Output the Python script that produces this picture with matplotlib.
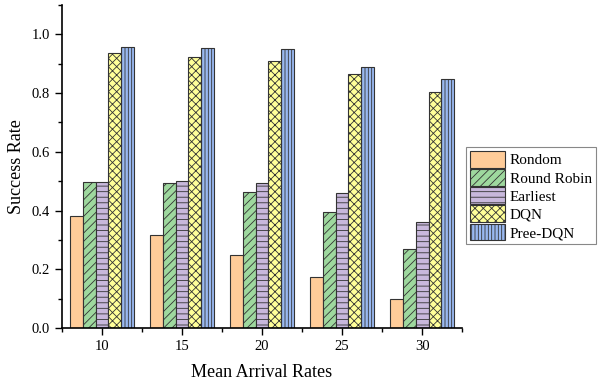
import numpy as np
import matplotlib
matplotlib.use('Agg')
from matplotlib import pyplot as plt
from matplotlib.ticker import MultipleLocator

plt.rcParams['font.family'] = ['Liberation Serif', 'DejaVu Serif']
plt.rcParams['hatch.linewidth'] = 0.6

rates = [10, 15, 20, 25, 30]
rondom = [0.380, 0.316, 0.247, 0.175, 0.100]
round_robin = [0.497, 0.492, 0.463, 0.395, 0.269]
earliest = [0.497, 0.502, 0.492, 0.458, 0.362]
dqn = [0.937, 0.924, 0.910, 0.866, 0.804]
pree_dqn = [0.958, 0.952, 0.950, 0.888, 0.849]

series = [
    ('Rondom', rondom, '#FFCC99', ''),
    ('Round Robin', round_robin, '#9ED89E', '////'),
    ('Earliest', earliest, '#C8B8DC', '---'),
    ('DQN', dqn, '#FFFF99', 'xxxx'),
    ('Pree-DQN', pree_dqn, '#99B8F0', '|||||'),
]

fig = plt.figure(figsize=(6.01, 3.84), dpi=100)
ax = fig.add_axes([0.103, 0.146, 0.666, 0.841])

x = np.array(rates, dtype=float)
w = 0.8
for i, (name, vals, color, hatch) in enumerate(series):
    ax.bar(x + (i - 2) * w, vals, width=w, color=color, edgecolor='#333333',
           linewidth=0.8, hatch=hatch, label=name)

ax.set_xlim(7.5, 32.5)
ax.set_ylim(0, 1.1)
ax.set_xticks(rates)
ax.xaxis.set_minor_locator(MultipleLocator(5, offset=2.5))
ax.yaxis.set_major_locator(MultipleLocator(0.2))
ax.yaxis.set_minor_locator(MultipleLocator(0.1))
ax.set_yticklabels([f'{v:.1f}' for v in ax.get_yticks()])
ax.tick_params(which='major', direction='out', length=5, width=1, labelsize=10.5)
ax.tick_params(which='minor', direction='out', length=3, width=1)
for s in ['top', 'right']:
    ax.spines[s].set_visible(False)
for s in ['left', 'bottom']:
    ax.spines[s].set_linewidth(1.2)

ax.set_xlabel('Mean Arrival Rates', fontsize=13, labelpad=8)
ax.set_ylabel('Success Rate', fontsize=13, labelpad=5)

leg = fig.legend(loc='upper left', bbox_to_anchor=(0.776, 0.617), fontsize=11,
                 fancybox=False, edgecolor='#888888', framealpha=1,
                 handlelength=2.3, handleheight=1.3, handletextpad=0.3,
                 labelspacing=0.1, borderpad=0.25, borderaxespad=0)
leg.get_frame().set_linewidth(0.8)

fig.savefig('out.png', dpi=100)
